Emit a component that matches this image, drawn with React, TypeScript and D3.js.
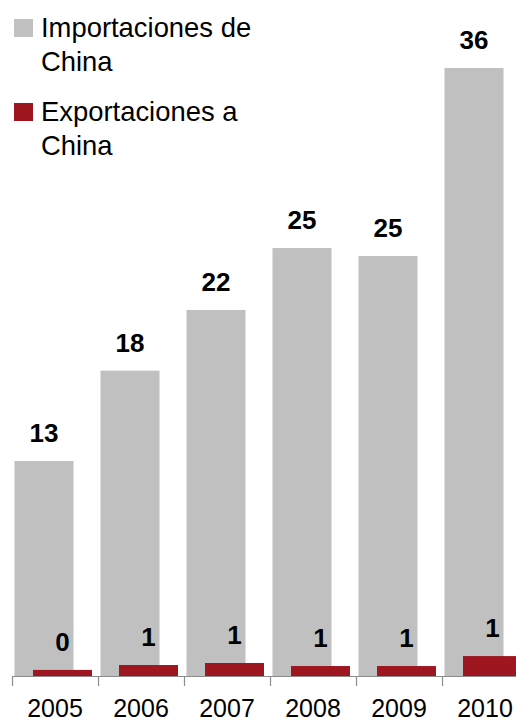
import React from "react";
import * as d3 from "d3";

const years = ["2005", "2006", "2007", "2008", "2009", "2010"];
const imports = [12.73, 18.08, 21.67, 25.34, 24.87, 36.0];
const exports = [0.36, 0.65, 0.77, 0.59, 0.59, 1.18];
const legendLabels = [
  ["Importaciones de", "China"],
  ["Exportaciones a", "China"],
];

const GRAY = "#c0c0c0";
const RED = "#9e1620";
const FONT = "'Liberation Sans', Arial, Helvetica, sans-serif";

export default function App() {
  const W = 516;
  const H = 721;
  const x = d3.scaleBand<string>().domain(years).range([12, 12 + 6 * 86]).padding(0);
  const y = d3.scaleLinear().domain([0, 36]).range([676, 68]);
  const barW = 59;
  const fmt = (v: number) => String(Math.round(v));
  const ticks = d3.range(years.length + 1).map((i) => 12 + i * x.step());

  return (
    <svg
      width={W}
      height={H}
      style={{ position: "absolute", left: 0, top: 0 }}
      fontFamily={FONT}
    >
      <rect width={W} height={H} fill="#fff" />
      {years.map((yr, i) => {
        const b = x(yr)!;
        const gx = b + 2.5;
        const rx = b + 21;
        return (
          <g key={yr}>
            <rect x={gx} y={y(imports[i])} width={barW} height={y(0) - y(imports[i])} fill={GRAY} />
            <rect x={rx} y={y(exports[i])} width={barW} height={y(0) - y(exports[i])} fill={RED} />
            <text
              x={gx + barW / 2}
              y={y(imports[i]) - 19}
              textAnchor="middle"
              fontSize={26}
              fontWeight="bold"
              fill="#000"
            >
              {fmt(imports[i])}
            </text>
            <text
              x={rx + barW / 2}
              y={y(exports[i]) - 19}
              textAnchor="middle"
              fontSize={26}
              fontWeight="bold"
              fill="#000"
            >
              {fmt(exports[i])}
            </text>
            <text
              x={b + x.bandwidth() / 2}
              y={717}
              textAnchor="middle"
              fontSize={25}
              fill="#000"
            >
              {yr}
            </text>
          </g>
        );
      })}
      <line x1={12} x2={W} y1={676.5} y2={676.5} stroke="#8c8c8c" strokeWidth={1.2} />
      {ticks.map((t, i) => (
        <line key={i} x1={t + 0.5} x2={t + 0.5} y1={676} y2={686} stroke="#8c8c8c" strokeWidth={1.2} />
      ))}
      {legendLabels.map((lines, i) => (
        <g key={i}>
          <rect x={14} y={19 + i * 84} width={19} height={18} fill={i === 0 ? GRAY : RED} />
          {lines.map((ln, j) => (
            <text key={j} x={41} y={37 + i * 84 + j * 33.5} fontSize={27.4} fill="#000">
              {ln}
            </text>
          ))}
        </g>
      ))}
    </svg>
  );
}
